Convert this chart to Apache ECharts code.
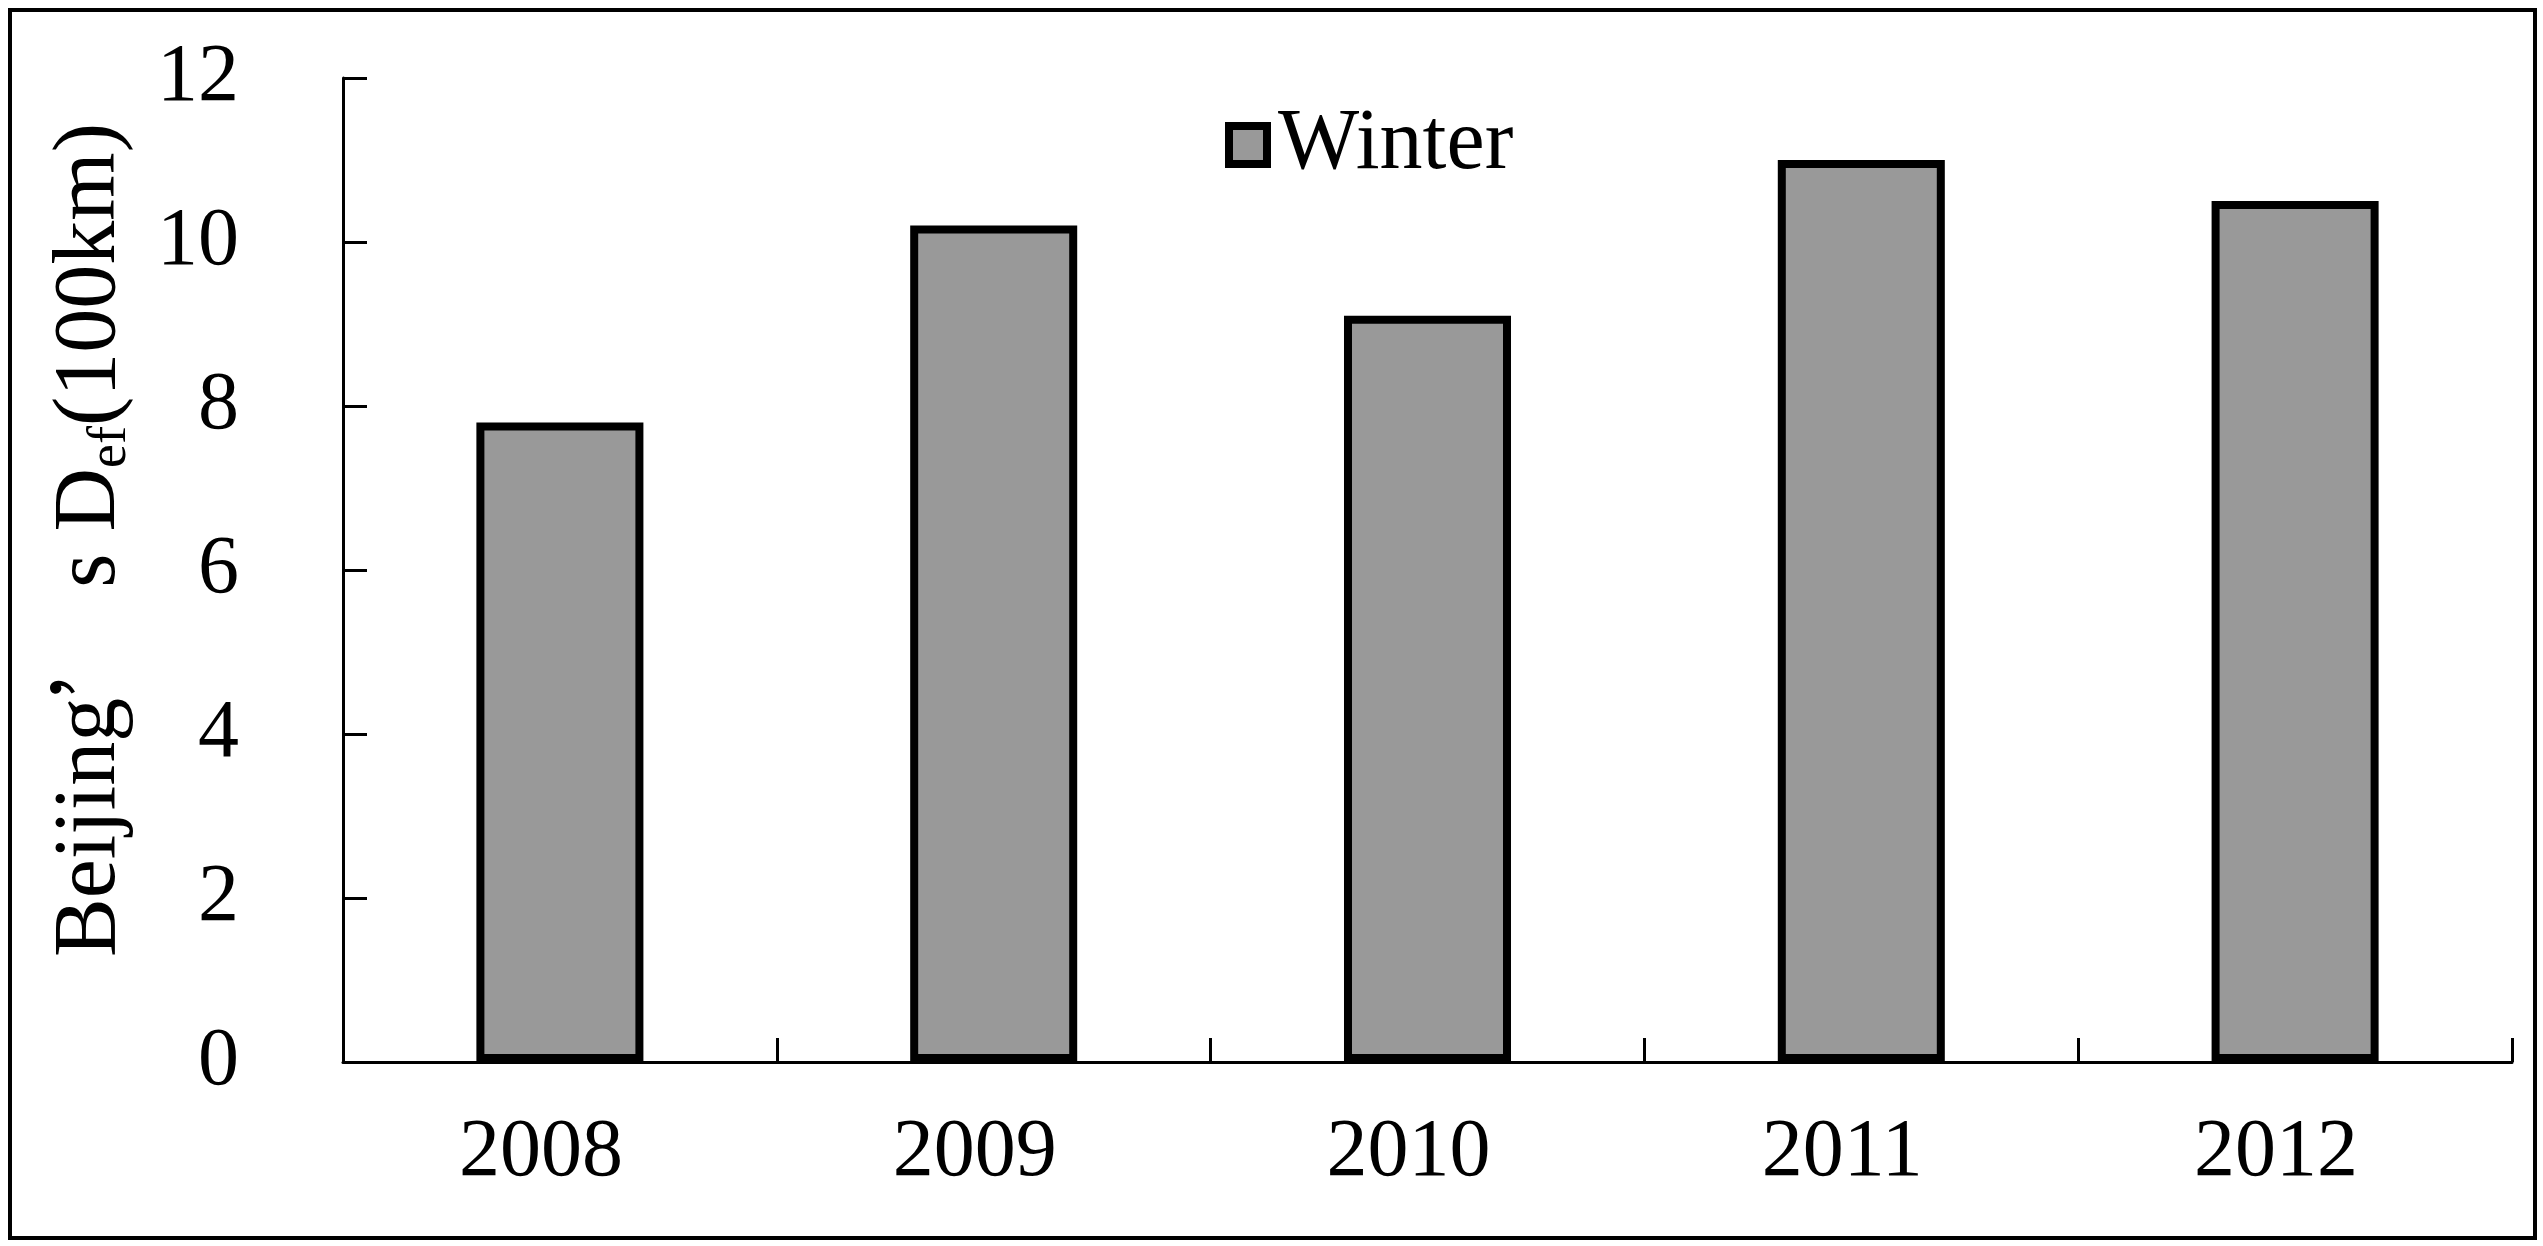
<!DOCTYPE html>
<html>
<head>
<meta charset="utf-8">
<script src="https://cdn.jsdelivr.net/npm/echarts@6/dist/echarts.min.js"></script>
<style>
html,body{margin:0;padding:0;background:#fff;}
#main{width:2543px;height:1246px;}
</style>
</head>
<body>
<div id="main"></div>
<script>
const categories = ['2008', '2009', '2010', '2011', '2012'];
const seriesName = 'Winter';
const winterValues = [7.8, 10.2, 9.1, 11.0, 10.5];
const yTicks = { min: 0, max: 12, interval: 2 };

const serif = 'Liberation Serif, Times New Roman, serif';
const chart = echarts.init(document.getElementById('main'), null, { renderer: 'canvas' });
chart.setOption({
  backgroundColor: '#ffffff',
  animation: false,
  graphic: [{
    type: 'rect',
    shape: { x: 10, y: 10, width: 2525, height: 1228 },
    style: { fill: 'none', stroke: '#000', lineWidth: 4 },
    silent: true
  }],
  grid: { left: 343, top: 78, width: 2169, height: 984, containLabel: false, outerBoundsMode: 'none' },
  legend: {
    data: [seriesName],
    left: 1220, top: 97,
    itemWidth: 38, itemHeight: 38,
    icon: 'rect',
    itemStyle: { color: '#999999', borderColor: '#000', borderWidth: 8 },
    textStyle: { fontFamily: serif, fontSize: 86, color: '#000', padding: [0, 0, 0, 6] }
  },
  xAxis: {
    type: 'category',
    data: categories,
    axisLine: { show: true, lineStyle: { color: '#000', width: 3 } },
    axisTick: { show: true, inside: true, length: 24, lineStyle: { color: '#000', width: 3 } },
    axisLabel: { fontFamily: serif, fontSize: 82, color: '#000', margin: 50, padding: [0, 38, 0, 0] },
    splitLine: { show: false }
  },
  yAxis: {
    type: 'value',
    min: yTicks.min, max: yTicks.max, interval: yTicks.interval,
    name: '{a|Beijing}{q|’}{a| s D}{b|ef}{a|(100km)}',
    nameLocation: 'middle',
    nameRotate: 90,
    nameGap: 205,
    nameTextStyle: {
      padding: [0, 0, 0, 60],
      rich: {
        a: { fontFamily: serif, fontSize: 88, color: '#000', lineHeight: 94 },
        q: { fontFamily: 'Noto Sans CJK SC', fontSize: 88, color: '#000', lineHeight: 94 },
        b: { fontFamily: serif, fontSize: 54, color: '#000', verticalAlign: 'bottom', lineHeight: 94 }
      }
    },
    axisLine: { show: true, lineStyle: { color: '#000', width: 3 } },
    axisTick: { show: true, inside: true, length: 24, lineStyle: { color: '#000', width: 3 } },
    axisLabel: { fontFamily: serif, fontSize: 82, color: '#000', margin: 104, padding: [16, 0, 0, 0] },
    splitLine: { show: false }
  },
  series: [{
    name: seriesName,
    type: 'bar',
    data: winterValues,
    barWidth: '38.5%',
    itemStyle: { color: '#999999', borderColor: '#000', borderWidth: 8 }
  }]
});
</script>
</body>
</html>
